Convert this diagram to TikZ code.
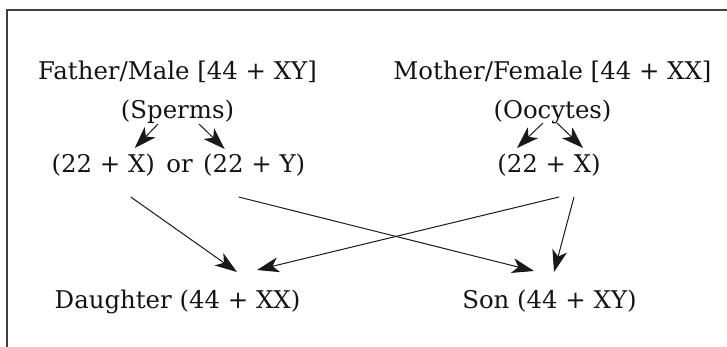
\documentclass[tikz,border=0pt]{standalone}
\usepackage{fontspec}
\setmainfont{DejaVu Serif}
\usetikzlibrary{arrows.meta,calc,positioning}

\tikzset{
  lbl/.style={inner sep=0pt, anchor=base, font=\fontsize{24.4}{28}\selectfont, text=black!92},
  tip/.tip={Stealth[length=22pt,width=15pt,inset=6pt]},
  arr/.style={line width=1pt, draw=black!90, -tip},
  frameline/.style={line width=2pt, draw=black!75}
}

\begin{document}
\begin{tikzpicture}[x=1pt, y=-1pt]
  \useasboundingbox (0,0) rectangle (727,347);

  % open frame: top and left edges only
  \draw[frameline] (727,10) -- (7,10) -- (7,347);

  % parents
  \node[lbl] (father)  at (177.5,80)  {Father/Male [44 + XY]};
  \node[lbl] (mother)  at (552.5,80)  {Mother/Female [44 + XX]};
  \node[lbl] (sperms)  at (177.5,119) {(Sperms)};
  \node[lbl] (oocytes) at (552.5,119) {(Oocytes)};

  % gametes
  \node[lbl] (orw) at (179.5,173) {or};
  \node[lbl, base left=11pt of orw]  (gx) {(22 + X)};
  \node[lbl, base right=10pt of orw] (gy) {(22 + Y)};
  \node[lbl] (gm) at (549,173) {(22 + X)};

  % offspring
  \node[lbl] (daughter) at (177.5,308) {Daughter (44 + XX)};
  \node[lbl] (son)      at (549.5,308) {Son (44 + XY)};

  % meiosis arrows
  \draw[arr] ($(sperms.base)+(-19.5,5)$) -- ($(gx.base)+(31.5,-25)$);
  \draw[arr] ($(sperms.base)+(21.5,5)$)  -- ($(gy.base)+(-29.5,-24)$);
  \draw[arr] ($(oocytes.base)+(-9.5,4)$) -- ($(gm.base)+(-32,-25)$);
  \draw[arr] ($(oocytes.base)+(4.5,4)$)  -- ($(gm.base)+(34,-25)$);

  % fertilisation arrows
  \draw[arr] ($(gx.base)+(27.5,24)$)  -- ($(daughter.base)+(59.5,-36)$);
  \draw[arr] ($(gy.base)+(-15.5,24)$) -- ($(son.base)+(-15.5,-37)$);
  \draw[arr] ($(gm.base)+(10,24)$)    -- ($(daughter.base)+(79.5,-38)$);
  \draw[arr] ($(gm.base)+(25,24)$)    -- ($(son.base)+(4.5,-36)$);
\end{tikzpicture}
\end{document}
